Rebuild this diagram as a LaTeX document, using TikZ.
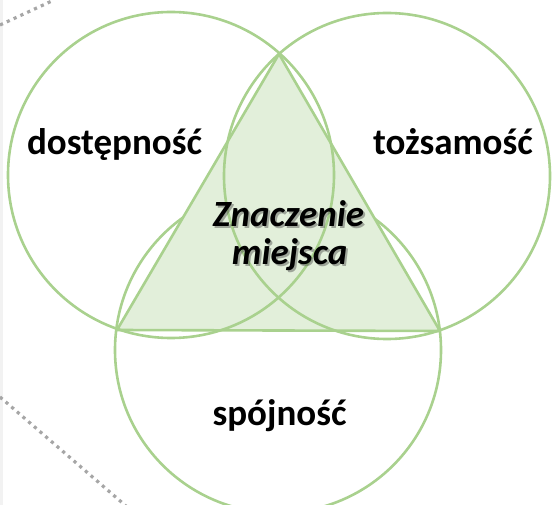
\documentclass[tikz,border=0pt]{standalone}
\usepackage{fontspec}
\setmainfont{Carlito}
\definecolor{vgreen}{HTML}{A9D18E}
\definecolor{vfill}{HTML}{E2EFDA}
\definecolor{dotgray}{HTML}{A6A6A6}
\definecolor{stripgray}{HTML}{F2F2F2}
\begin{document}
\begin{tikzpicture}[x=1pt,y=-1pt,
  ring/.style={circle,draw=vgreen,line width=2.6pt,minimum size=326pt,inner sep=0pt,outer sep=0pt},
  lbl/.style={font=\fontsize{37}{39}\selectfont\bfseries,text=black,inner sep=0pt,anchor=base},
  ctr/.style={font=\fontsize{37}{39}\selectfont\bfseries\itshape,inner sep=0pt,anchor=base},
  shadowtxt/.style={ctr,text=black!70,opacity=0.45},
  dots/.style={draw=dotgray,line width=3.2pt,dash pattern=on 3.2pt off 4.3pt},
  edge/.style={draw=vgreen,line width=2.6pt,line join=round}]
\useasboundingbox (0,0) rectangle (552,505);
\clip (0,0) rectangle (552,505);
\fill[stripgray] (0,0) rectangle (3.3,505);
\coordinate (d1a) at (0,25); \coordinate (d1b) at (54,0);
\draw[dots] (d1a) -- (d1b);
\coordinate (d2a) at (0,397); \coordinate (d2b) at (126,506);
\draw[dots] (d2a) -- (d2b);
\node[ring] (S) at (278,350) {};
\coordinate (A) at (279,54);
\coordinate (B) at (117,330);
\coordinate (C) at (440,331);
\fill[vfill] (A) -- (B) -- (C) -- cycle;
\draw[edge] (A) -- (B) -- (C) -- cycle;
\node[ring] (L) at (171,175) {};
\node[ring] (R) at (387,176) {};
\node[lbl] (t1) at (114.5,155) {dostępność};
\node[lbl] (t2) at (453,155) {tożsamość};
\node[lbl] (t3) at (279.5,425) {spójność};
\node[shadowtxt] (cs1) at (290.5,229) {Znaczenie};
\node[shadowtxt] (cs2) at (291.5,267) {miejsca};
\node[ctr] (c1) at (288.5,227) {Znaczenie};
\node[ctr] (c2) at (289.5,265) {miejsca};
\end{tikzpicture}
\end{document}
